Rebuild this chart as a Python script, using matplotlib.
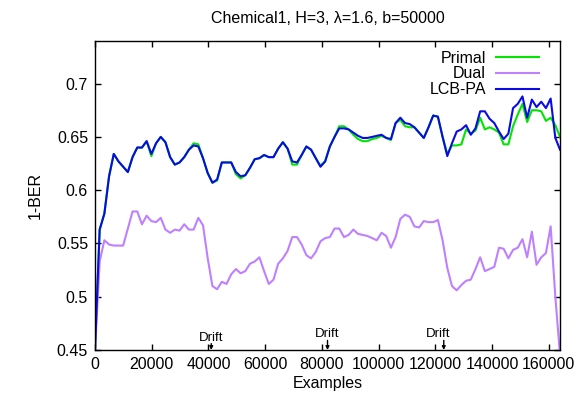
import numpy as np
import matplotlib
matplotlib.use("Agg")
import matplotlib.pyplot as plt
from matplotlib.ticker import FormatStrFormatter

plt.rcParams['font.family'] = ['Liberation Sans', 'DejaVu Sans']

# 1-BER sampled evenly over the stream (0 .. 164000 examples)
n_examples = 164000

primal = [0.450, 0.563, 0.578, 0.613, 0.634, 0.627, 0.622, 0.617, 0.631, 0.640,
          0.640, 0.646, 0.632, 0.644, 0.650, 0.645, 0.631, 0.624, 0.626, 0.631,
          0.638, 0.644, 0.643, 0.630, 0.616, 0.607, 0.609, 0.626, 0.626, 0.626,
          0.615, 0.611, 0.614, 0.621, 0.629, 0.630, 0.633, 0.631, 0.631, 0.639,
          0.645, 0.639, 0.624, 0.624, 0.633, 0.641, 0.638, 0.630, 0.623, 0.627,
          0.641, 0.650, 0.660, 0.660, 0.657, 0.652, 0.648, 0.646, 0.646, 0.648,
          0.649, 0.651, 0.649, 0.647, 0.663, 0.666, 0.660, 0.659, 0.659, 0.654,
          0.649, 0.659, 0.670, 0.669, 0.650, 0.634, 0.642, 0.642, 0.643, 0.657,
          0.653, 0.656, 0.668, 0.657, 0.659, 0.657, 0.654, 0.643, 0.643, 0.660,
          0.671, 0.681, 0.664, 0.675, 0.675, 0.674, 0.665, 0.668, 0.661, 0.650]

dual = [0.450, 0.533, 0.553, 0.549, 0.548, 0.548, 0.548, 0.564, 0.580, 0.580,
        0.568, 0.576, 0.571, 0.570, 0.574, 0.563, 0.560, 0.563, 0.562, 0.568,
        0.563, 0.563, 0.574, 0.567, 0.536, 0.510, 0.507, 0.514, 0.512, 0.521,
        0.526, 0.522, 0.524, 0.531, 0.533, 0.537, 0.524, 0.512, 0.516, 0.531,
        0.536, 0.543, 0.556, 0.556, 0.549, 0.539, 0.536, 0.542, 0.552, 0.555,
        0.556, 0.564, 0.564, 0.556, 0.558, 0.563, 0.559, 0.558, 0.557, 0.555,
        0.553, 0.560, 0.557, 0.546, 0.556, 0.573, 0.577, 0.575, 0.566, 0.565,
        0.571, 0.570, 0.570, 0.572, 0.553, 0.527, 0.510, 0.506, 0.511, 0.515,
        0.516, 0.526, 0.537, 0.524, 0.526, 0.528, 0.546, 0.545, 0.536, 0.544,
        0.546, 0.554, 0.537, 0.561, 0.530, 0.537, 0.541, 0.566, 0.500, 0.445]

lcb_pa = [0.450, 0.563, 0.578, 0.613, 0.634, 0.627, 0.622, 0.617, 0.631, 0.640,
          0.640, 0.646, 0.634, 0.644, 0.650, 0.645, 0.631, 0.624, 0.626, 0.631,
          0.638, 0.642, 0.641, 0.630, 0.616, 0.607, 0.610, 0.626, 0.626, 0.626,
          0.617, 0.613, 0.614, 0.621, 0.629, 0.630, 0.633, 0.631, 0.631, 0.639,
          0.645, 0.639, 0.627, 0.626, 0.633, 0.641, 0.638, 0.630, 0.622, 0.627,
          0.641, 0.650, 0.658, 0.658, 0.657, 0.654, 0.651, 0.649, 0.649, 0.650,
          0.651, 0.652, 0.649, 0.648, 0.663, 0.668, 0.663, 0.662, 0.659, 0.654,
          0.649, 0.659, 0.670, 0.669, 0.650, 0.632, 0.644, 0.655, 0.657, 0.661,
          0.652, 0.658, 0.674, 0.674, 0.667, 0.663, 0.655, 0.648, 0.653, 0.677,
          0.681, 0.688, 0.668, 0.685, 0.678, 0.683, 0.677, 0.686, 0.649, 0.638]

drifts = [41000, 82000, 123000]

x = np.linspace(0, n_examples, len(lcb_pa))

fig = plt.figure(figsize=(5.77, 3.98), dpi=100)
ax = fig.add_axes([0.1646, 0.1206, 0.806, 0.7764])

ax.plot(x, primal, color='#00e600', lw=1.5, label='Primal')
ax.plot(x, dual, color='#bf80ff', lw=1.5, label='Dual')
ax.plot(x, lcb_pa, color='#0a0ae6', lw=1.5, label='LCB-PA')

ax.set_xlim(0, n_examples)
ax.set_ylim(0.45, 0.74)
ax.set_xticks(np.arange(0, 160001, 20000))
ax.set_yticks([0.45, 0.5, 0.55, 0.6, 0.65, 0.7])
ax.yaxis.set_major_formatter(FormatStrFormatter('%g'))
ax.tick_params(direction='in', top=True, right=True, length=4, width=1,
               labelsize=11.5, pad=5)
for s in ax.spines.values():
    s.set_linewidth(1)

# drift markers
for k, d in enumerate(drifts):
    top = 0.006 if k == 0 else 0.009
    ax.annotate('', xy=(d, 0.45), xytext=(d, 0.45 + top),
                arrowprops=dict(arrowstyle='-|>', color='black', lw=1,
                                mutation_scale=5, shrinkA=0, shrinkB=0))
    ax.text(d - (0 if k < 2 else 2000), 0.45 + top, 'Drift',
            ha='center', va='bottom', fontsize=9.5)

ax.set_title('Chemical1, H=3, λ=1.6, b=50000', fontsize=11.5, pad=13)
ax.set_xlabel('Examples', fontsize=11.5, labelpad=3)
ax.set_ylabel('1-BER', fontsize=11.5, labelpad=10)

ax.legend(loc='upper right', bbox_to_anchor=(0.975, 1.0), frameon=False,
          markerfirst=False, handlelength=2.7, labelspacing=0.05,
          fontsize=11.5, borderaxespad=0.2, handletextpad=0.6)

fig.savefig('out.png', dpi=100)
